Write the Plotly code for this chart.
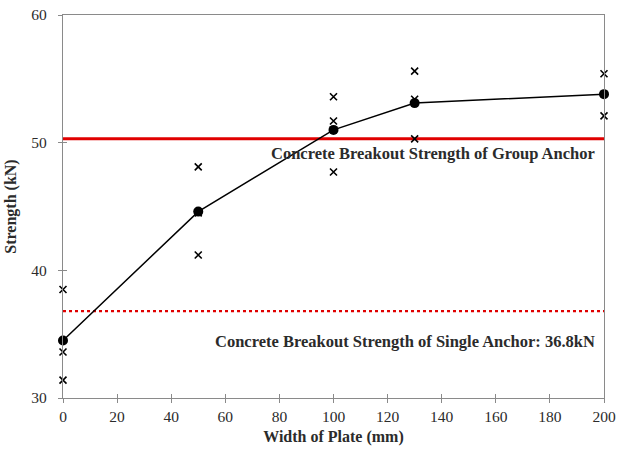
import plotly.graph_objects as go

# Individual specimen results
specimen_width = [0, 0, 0, 50, 50, 50, 100, 100, 100, 130, 130, 130, 200, 200]
specimen_strength = [38.5, 33.6, 31.4, 48.1, 44.5, 41.2, 53.6, 51.7, 47.7,
                     55.6, 53.4, 50.3, 55.4, 52.1]

# Average strength per plate width
mean_width = [0, 50, 100, 130, 200]
mean_strength = [34.5, 44.6, 51.0, 53.1, 53.8]

# Reference breakout strengths
group_anchor_strength = 50.3
single_anchor_strength = 36.8

x_ticks = list(range(0, 201, 20))
y_ticks = [30, 40, 50, 60]

SERIF = "Liberation Serif, Times New Roman, serif"
AXIS_GREY = "#8a8a8a"
TEXT = "#2b2b2b"

fig = go.Figure()

fig.add_trace(go.Scatter(
    x=specimen_width, y=specimen_strength, mode="markers",
    marker=dict(symbol="x-thin-open", size=7, color="black",
                line=dict(color="black", width=1.6)),
    showlegend=False, cliponaxis=False,
))

# averages on the overlay axes so they sit above the specimen marks
fig.add_trace(go.Scatter(
    x=mean_width, y=mean_strength, mode="lines+markers",
    xaxis="x2", yaxis="y2",
    line=dict(color="black", width=1.5),
    marker=dict(symbol="circle", size=10, color="black"),
    showlegend=False, cliponaxis=False,
))

# Breakout strength reference lines
fig.add_shape(type="line", xref="paper", x0=0, x1=1, yref="y",
              y0=group_anchor_strength, y1=group_anchor_strength,
              line=dict(color="#e00000", width=3), layer="below")
fig.add_shape(type="line", xref="paper", x0=0, x1=1, yref="y",
              y0=single_anchor_strength, y1=single_anchor_strength,
              line=dict(color="#e00000", width=2.2, dash="dot"), layer="below")

fig.add_annotation(x=197.5, y=49.15, xanchor="right", yanchor="middle",
                   text="<b>Concrete Breakout Strength of Group Anchor</b>",
                   showarrow=False, font=dict(family=SERIF, size=16.5, color=TEXT))
fig.add_annotation(x=197.5, y=34.45, xanchor="right", yanchor="middle",
                   text=f"<b>Concrete Breakout Strength of Single Anchor: {single_anchor_strength}kN</b>",
                   showarrow=False, font=dict(family=SERIF, size=16.5, color=TEXT))

axis_common = dict(
    showline=True, linecolor=AXIS_GREY, linewidth=1.2, mirror=True,
    ticks="outside", ticklen=4, tickcolor=AXIS_GREY, tickwidth=1,
    showgrid=False, zeroline=False, ticklabeloverflow="allow",
    automargin=False,
    tickfont=dict(family=SERIF, size=15.5, color=TEXT),
)

fig.update_layout(
    width=617, height=452,
    margin=dict(l=63, r=13, t=15, b=54),
    paper_bgcolor="white", plot_bgcolor="white",
    xaxis=dict(range=[0, 200], tickvals=x_ticks,
               title=dict(text="<b>Width of Plate (mm)</b>", standoff=7,
                          font=dict(family=SERIF, size=16, color=TEXT)),
               **axis_common),
    yaxis=dict(range=[30, 60], tickvals=y_ticks,
               title=dict(text="<b>Strength (kN)</b>", standoff=10,
                          font=dict(family=SERIF, size=16, color=TEXT)),
               ticklabelstandoff=8,
               **axis_common),
    # inner half of the crossing tick marks
    xaxis2=dict(overlaying="x", anchor="y2", matches="x", range=[0, 200],
                tickvals=x_ticks, ticks="inside", ticklen=4, tickcolor=AXIS_GREY,
                showticklabels=False, showline=False, showgrid=False,
                zeroline=False, automargin=False),
    yaxis2=dict(overlaying="y", anchor="x2", matches="y", range=[30, 60],
                tickvals=y_ticks, ticks="inside", ticklen=4, tickcolor=AXIS_GREY,
                showticklabels=False, showline=False, showgrid=False,
                zeroline=False, automargin=False),
)

fig.write_html("out.html")
